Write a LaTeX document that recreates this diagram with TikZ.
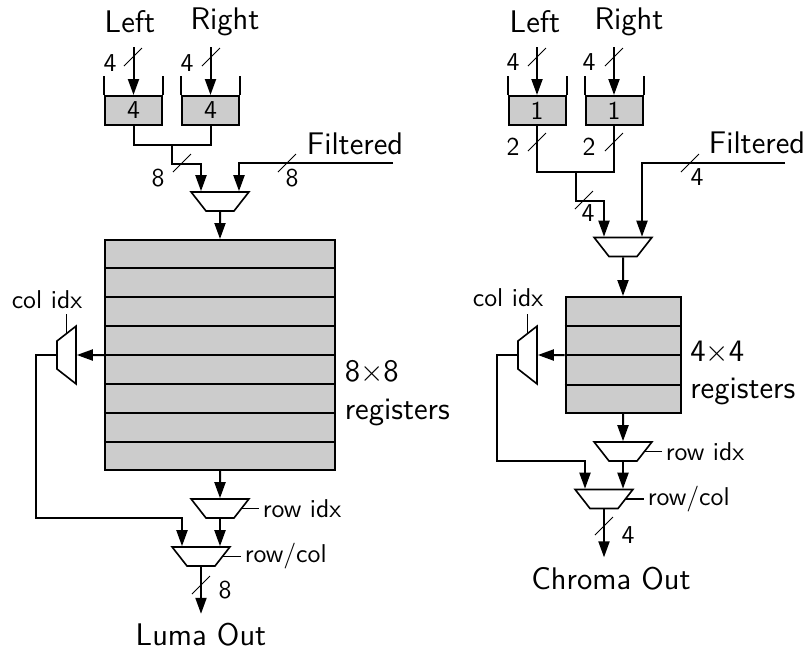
\documentclass[tikz,border=0pt]{standalone}
\usepackage{tikz}
\usetikzlibrary{arrows.meta,shapes.geometric,positioning,calc}
\definecolor{regfill}{RGB}{204,204,204}

\begin{document}
\begin{tikzpicture}[
  x=0.4pt,y=-0.4pt,
  big/.style={font=\fontsize{12.5}{15}\selectfont\sffamily},
  sml/.style={font=\fontsize{10.3}{12}\selectfont\sffamily},
  wire/.style={line width=0.8pt},
  sel/.style={line width=0.65pt},
  slash/.style={line width=0.4pt},
  arr/.style={-{Triangle[length=6.4pt,width=4.4pt]},line width=0.8pt},
  mux/.style={trapezium,trapezium angle=52,draw,line width=0.65pt,inner sep=0pt,
              text width=11.2pt,text height=7.6pt,text depth=0pt,shape border rotate=180},
  cmux/.style={mux,text width=7.6pt,text height=11.2pt,shape border rotate=90},
  fifo/.style={rectangle,draw,fill=regfill,line width=0.8pt,inner sep=0pt,
               minimum width=22.8pt,minimum height=11.6pt,sml},
  regs/.style={rectangle,draw,fill=regfill,line width=0.8pt,inner sep=0pt},
  bw/.style={sml,inner sep=1pt},
]
\useasboundingbox (0,0) rectangle (807,649);

% ---- luma path
\node[big] (inL1) at (130,22) {Left};
\node[big] (inR1) at (225,22) {Right};
\node[fifo] (fL1) at (133.5,110.5) {4};
\node[fifo] (fR1) at (210.5,110.5) {4};
\node[mux] (mT1) at (220,201.5) {};
\node[regs,minimum width=92pt,minimum height=92pt] (regL) at (220,355) {};
\node[cmux] (mC1) at (66.5,355) {};
\node[mux] (mR1) at (220,508.5) {};
\node[mux] (mO1) at (201,556.5) {};
\node[big] (ft1) at (355,144) {Filtered};
\coordinate (flt1) at (393,163);
\node[sml] (ci1) at (47,300) {col idx};
\node[big,align=left,anchor=west] (rl1) at ($(regL.east)+(0,38)$) {8$\times$8\\registers};

% ---- chroma path
\node[big] (inL2) at (535,22) {Left};
\node[big] (inR2) at (629,22) {Right};
\node[fifo] (fL2) at (537,110.5) {1};
\node[fifo] (fR2) at (614,110.5) {1};
\node[mux] (mT2) at (623,247) {};
\node[regs,minimum width=46pt,minimum height=46.4pt] (regR) at (623,355) {};
\node[cmux] (mC2) at (527.5,355) {};
\node[mux] (mR2) at (623,451.5) {};
\node[mux] (mO2) at (604,499) {};
\node[big] (ft2) at (757,143) {Filtered};
\coordinate (flt2) at (785,163);
\node[sml] (ci2) at (508,298) {col idx};
\node[big,align=left,anchor=west] (rl2) at ($(regR.east)+(0,18)$) {4$\times$4\\registers};

% register rows
\foreach \r in {1,...,7}
  \draw[wire] ($(regL.north west)!\r/8!(regL.south west)$) -- ($(regL.north east)!\r/8!(regL.south east)$);
\foreach \r in {1,...,3}
  \draw[wire] ($(regR.north west)!\r/4!(regR.south west)$) -- ($(regR.north east)!\r/4!(regR.south east)$);

% fifo walls and inputs
\foreach \f in {fL1,fR1,fL2,fR2}{
  \draw[wire] (\f.north west) -- ++(0,-19);
  \draw[wire] (\f.north east) -- ++(0,-19);
  \draw[arr] (\f.north) ++(0,-48) -- (\f.north);
}

% luma wires
\draw[wire] (fL1.south) -- ++(0,19) -| (fR1.south);
\draw[arr] ($(fL1.south)!.5!(fR1.south)$) ++(0,19) -- ++(0,19) -| ($(mT1.north)+(-19,0)$);
\draw[arr] (flt1) -| ($(mT1.north)+(19,0)$);
\draw[arr] (mT1.south) -- (regL.north);
\draw[arr] (regL.west) -- (mC1.east);
\draw[arr] (mC1.west) -- ++(-20,0) |- ($(mO1.north)+(-19,-28)$) -- ($(mO1.north)+(-19,0)$);
\draw[arr] (regL.south) -- (mR1.north);
\draw[arr] (mR1.south) -- ($(mO1.north)+(19,0)$);
\draw[sel] (mC1.north) -- ++(0,-19);
\draw[sel] (mR1.east) -- ++(17,0) node[sml,right,inner sep=1pt] (ri1) {row idx};
\draw[sel] (mO1.east) -- ++(18,0) node[sml,right,inner sep=1pt] (rc1) {row/col};
\draw[arr] (mO1.south) -- ++(0,47) node[big,below] (lo) {Luma Out};

% chroma wires
\draw[wire] (fL2.south) -- ++(0,46) -| (fR2.south);
\draw[arr] ($(fL2.south)!.5!(fR2.south)$) ++(0,46) -- ++(0,29) -| ($(mT2.north)+(-19,0)$);
\draw[arr] (flt2) -| ($(mT2.north)+(19,0)$);
\draw[arr] (mT2.south) -- (regR.north);
\draw[arr] (regR.west) -- (mC2.east);
\draw[arr] (mC2.west) -- ++(-20,0) |- ($(mO2.north)+(-19,-28)$) -- ($(mO2.north)+(-19,0)$);
\draw[arr] (regR.south) -- (mR2.north);
\draw[arr] (mR2.south) -- ($(mO2.north)+(19,0)$);
\draw[sel] (mC2.north) -- ++(0,-19);
\draw[sel] (mR2.east) -- ++(17,0) node[sml,right,inner sep=1pt] (ri2) {row idx};
\draw[sel] (mO2.east) -- ++(18,0) node[sml,right,inner sep=1pt] (rc2) {row/col};
\draw[arr] (mO2.south) -- ++(0,48) node[big,below,xshift=2.8pt] (co) {Chroma Out};

% bus widths
\foreach \x/\y/\lx/\ly/\t/\n in {133/57/110/63/4/a,211/57/187/63/4/b,182/163/158/178/8/c,
    287/163/292/178/8/d,201/585/225/590/8/e,537/57/513/62/4/f,614/57/589/62/4/g,
    537/142/513/147/2/h,614/142/589/147/2/i,584/200/588/213/4/j,690/163/697/177/4/k,
    604/526/628/535/4/l}{
  \draw[slash] (\x-9,\y+9) -- (\x+9,\y-9);
  \node[bw] (bw\n) at (\lx,\ly) {\t};
}
\end{tikzpicture}
\end{document}
